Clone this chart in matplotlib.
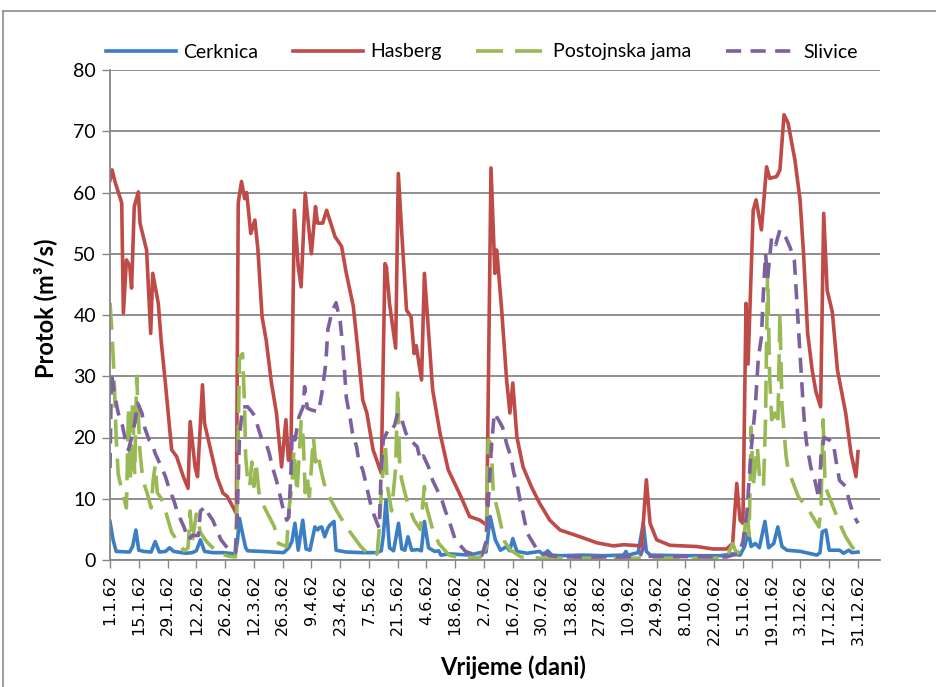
import datetime
import matplotlib
matplotlib.use('Agg')
import matplotlib.pyplot as plt
from matplotlib.lines import Line2D

plt.rcParams['font.family'] = ['Lato', 'DejaVu Sans']

# daily discharge 1962, (day of year from 1.1., m3/s)
cerknica_day = [0, 1.5, 3, 9.5, 11, 12.6, 14, 16.5, 20, 22, 24, 27, 29, 31, 33, 37, 40, 42, 44, 46,
                50, 55, 61, 62, 63, 64.5, 66, 67, 74, 84.5, 87, 88.5, 90, 91.6, 93.8, 95.4, 97.3,
                99.7, 101, 102, 103, 104.5, 106, 107, 109, 110, 115, 123, 129.6, 132, 133, 134.3,
                136, 138, 140.4, 142, 143.5, 145, 146.8, 150, 151.5, 153, 155, 158, 160, 161, 165,
                170, 175, 180, 183, 185, 187.5, 190, 193, 194.5, 196, 198, 203, 209, 211, 213, 215,
                219, 230, 240, 250, 251, 252, 257, 259.5, 261, 263, 280, 297, 303, 306.6, 308.8,
                310.6, 312, 314, 316, 318.7, 320.5, 323, 325, 327, 329.4, 336, 344, 345.5, 346.6,
                348.4, 350, 355, 357, 359.5, 361, 364]
cerknica_q = [6.3, 3.3, 1.4, 1.3, 2.2, 4.9, 1.6, 1.4, 1.3, 3, 1.3, 1.4, 2, 1.4, 1.3, 1.1, 1.2, 1.5, 3.3, 1.4,
              1.2, 1.2, 1, 3, 6.8, 4.3, 2, 1.5, 1.4, 1.2, 2, 3, 6, 1.6, 6.5, 1.8, 1.6,
              5.4, 4.9, 5.3, 5.4, 3.8, 5.2, 5.7, 6.3, 1.6, 1.3, 1.2, 1.2, 1.5, 4, 9.8,
              2, 1.5, 6, 1.8, 1.6, 3.8, 1.6, 1.7, 1.5, 6.3, 2, 1.4, 1.5, 0.8, 1,
              0.9, 0.8, 1.2, 1.3, 7.1, 3.3, 1.6, 2.2, 1.5, 3.5, 1.4, 1.1, 1.4, 0.8, 1.5, 0.8,
              0.7, 0.8, 0.7, 0.8, 1.4, 0.8, 1.2, 6, 1.4, 0.8, 0.7, 0.7, 1, 0.8, 2.2,
              4.6, 2.2, 2.7, 2, 6.3, 2, 2.7, 5.4, 2.2, 1.6, 1.4, 0.8, 1.2, 4.6,
              4.9, 1.6, 1.6, 1.1, 1.6, 1.2, 1.3]

hasberg_day = [0, 1, 2.4, 5.7, 6.5, 8, 9.6, 10.5, 11.8, 13.8, 14.6, 17.8, 19.8, 20.8, 23.5, 25, 26.8,
               30, 32.4, 35.7, 38, 39, 41.4, 42.6, 45, 46, 52, 55, 57, 61.5, 62.4, 64, 65.5, 66.5,
               68.5, 70.5, 72, 74, 76, 78.6, 81, 83.5, 85.6, 86.8, 88, 89.7, 91.6, 93, 95, 98, 100,
               101, 103.5, 105.4, 109.5, 112.7, 115, 118.4, 120.8, 123, 125, 128, 132, 133.8,
               134.5, 136, 139, 140.3, 142, 144.3, 146.5, 148, 149, 151.6, 153, 157, 160.6, 164.6,
               170, 175, 180, 183.3, 185.4, 187.3, 188.2, 190.6, 193, 194.6, 196, 198, 201, 205,
               209, 214, 219, 228.7, 237, 245, 250, 258.7, 261, 262.8, 266, 272.5, 285.5, 293.5,
               300, 303, 305, 306.6, 308, 309.5, 310.5, 311.5, 313, 314.4, 317, 319.5, 321, 324.4,
               326, 328, 330, 333.3, 335.8, 337.5, 339.5, 341.7, 343.5, 345.8, 347.3, 349,
               351.5, 354, 358, 360.6, 363, 364]
hasberg_q = [62, 63.7, 61.8, 58.3, 40.3, 49, 48, 44.4, 57.7, 60.1, 55, 50.6, 37, 46.8, 41.9, 35.4, 29.4,
             18, 16.9, 13.6, 11.7, 22.6, 15.2, 13.6, 28.6, 22.3, 13.6, 10.9, 10.4, 7.6, 58.3, 61.8, 59, 60,
             53.3, 55.5, 50.6, 39.7, 35.9, 28.8, 24, 15.2, 22.9, 16.3, 16.3, 57.1, 47.9, 44.6, 59.9, 50, 57.7,
             55, 55, 57.1, 52.8, 51.2, 46.8, 41.4, 33.7, 26.1, 24, 18, 14.2, 48.4,
             47.9, 41.9, 34.6, 63.1, 53.3, 40.8, 39.7, 33.7, 35, 29.4, 46.8, 27.8, 20.7, 14.7,
             10.9, 7.1, 6.5, 5.7, 64, 46.8, 50.6, 40.8, 29.4, 24, 28.9, 20.1, 15.2, 12,
             9.3, 6.5, 4.9, 3.8, 2.8, 2.3, 2.5, 2.3, 13.1, 6, 3.3, 2.4, 2.2, 1.8,
             1.8, 2.7, 12.5, 6.5, 6, 41.9, 32, 42, 57.1, 58.8, 53.9, 64.2, 62.3, 62.6,
             63.7, 72.7, 71.3, 65.3, 58.8, 50, 37, 31, 27.5, 25, 56.6, 44,
             40.5, 31, 24, 17.4, 13.6, 17.7]

postojna_day = [0, 1, 2, 3, 4, 6, 8, 9, 10, 11, 12, 13, 14.5, 16, 18, 20, 21, 22, 23, 25, 27, 30, 33,
                36, 38, 39, 40, 42, 44, 47, 50, 54, 58, 61, 62, 63, 64.5, 65.5, 66, 67, 68, 69, 70,
                71, 72.5, 75, 80, 82, 86, 87, 88.5, 89.5, 91, 93, 94, 95, 96, 97, 99, 100, 101, 103,
                105, 110, 115, 122, 127, 130, 131, 132, 134, 135, 137, 139, 140, 141, 142, 145, 148,
                151, 153, 154, 157, 160, 165, 170, 180, 183, 184, 185.5, 186.5, 189, 192, 195, 200,
                210, 250, 300, 303, 305, 308, 310, 311, 312, 313, 315, 316, 318, 319, 320, 321, 322,
                323.5, 325, 326, 327, 328, 329, 330, 335, 339, 345, 346, 347, 348, 350, 355, 358,
                361, 364]
postojna_q = [42, 37, 30, 20, 14, 11, 8.5, 25, 13, 26, 14, 30, 18, 13, 11, 8.5, 13, 15.5, 11, 10, 8, 4.5, 3,
              1.5, 2, 8, 3, 7.5, 4.5, 3, 2, 1, 0.6, 0.5, 12, 33, 33.7, 25, 17, 13, 12, 16, 12,
              16, 11, 8.7, 5.4, 2.7, 2.2, 8, 12, 18, 11, 22.6, 20, 11, 13.6, 10.3, 20, 16, 17.4, 14.2,
              11.4, 8.2, 5.4, 2.2, 0.5, 1, 5, 11, 19, 12, 8, 15, 28, 15, 13, 9, 6.5,
              5, 12, 8.7, 5, 2.7, 0.8, 0.4, 0.4, 2, 19.6, 19, 11, 7.6, 3, 1.6, 0.5,
              0.3, 0.3, 0.3, 2.7, 1, 2, 8.7, 4, 21.7, 12, 18.5, 14, 12, 22.9, 47.3, 30, 22.9,
              24, 22, 40.3, 25, 21, 17, 14.7, 10.3, 8.7, 5.4, 8.7, 22.9, 12, 10.3, 6, 3.8,
              2.2, 1]

slivice_day = [0, 0.7, 2.2, 4, 6, 7.5, 9, 10.5, 12, 13.5, 15.5, 17, 19, 20.5, 22, 25, 27, 29, 31, 33,
               34.5, 36, 38, 40, 43, 44, 46.5, 48, 50, 52, 54, 58, 61, 62, 63, 64.5, 67, 69, 70.5,
               72, 74, 76, 77.5, 79, 81, 82.5, 84, 86, 87, 88, 88.7, 90, 92, 94, 94.7, 96, 98, 101.5,
               103, 105, 106, 108, 110, 112, 113.5, 115, 117, 118, 120, 121, 123, 124.5, 126, 127.5,
               130, 131, 132, 133, 135, 136, 138.5, 140, 142, 144, 146, 149.5, 151, 152.5, 155,
               157, 160, 161.5, 163, 166, 168, 173, 178, 181, 183, 184, 185.5, 187, 189, 191, 193,
               195, 196.5, 198, 199.5, 201, 203, 206, 208, 214, 220, 250, 258, 260, 262, 300, 303,
               306, 308, 310, 312, 314, 315.5, 317, 318, 319, 320, 322, 324, 326, 328, 331, 333,
               334, 335.5, 337, 338, 339, 341, 343, 345, 346, 347.5, 350, 352, 353.5, 355, 358,
               360, 362, 364]
slivice_q = [15, 30.5, 27, 24, 22, 19.6, 18, 20, 22.3, 25.6, 24, 21.5, 19.6, 19, 17.4, 15.2, 13.6, 11.4, 9.8, 7.6,
             6.5, 5.4, 3.3, 4, 4, 8, 8.7, 7.5, 6.5, 4.9, 3.3, 1.6, 1.2, 8, 20, 25, 25, 24.2, 23.5,
             21.7, 19.6, 19, 17.4, 15.2, 13, 10.9, 8.7, 6.5, 7, 14, 21, 19.6, 23.4, 25, 28.3, 24.8, 24.5, 24.2,
             27, 32, 37.6, 40.5, 42, 39, 34, 26.5, 22.9, 20.7, 18.5, 16.3, 14.7, 12.6, 10.3, 8.2,
             6, 5.2, 15, 19.6, 21, 20.7, 22, 24, 22.9, 20.7, 19.6, 18.5, 16.3, 17, 15.2,
             13, 10.9, 9.8, 8.2, 5.4, 3.3, 1.4, 0.8, 0.8, 3, 9, 18, 24, 22.9, 21.7, 19,
             16.9, 14.2, 12.5, 9.8, 7.6, 4.4, 2.7, 1.6, 0.7, 0.5, 0.5, 0.6, 2.5, 0.6, 0.5, 0.8,
             1, 3, 8, 18, 25, 33, 36.4, 44, 50, 46, 52.7, 51.5, 53.9, 53.3, 51, 49,
             43.5, 35, 27, 22, 19, 15.2, 13, 10, 17, 20, 19.6, 19, 15.8, 13, 12,
             9.3, 7.2, 6]

series = [
    ('Cerknica', cerknica_day, cerknica_q, '#3C7EC3', None),
    ('Hasberg', hasberg_day, hasberg_q, '#BE4B48', None),
    ('Postojnska jama', postojna_day, postojna_q, '#98B954', (7.5, 3.3)),
    ('Slivice', slivice_day, slivice_q, '#7D60A0', (4.2, 2.6)),
]

grey = '#868686'
W, H = 936, 687

fig = plt.figure(figsize=(W / 100, H / 100), dpi=100)
ax = fig.add_axes([110 / W, 1 - 560 / H, 770 / W, 490 / H])

for name, d, q, col, dash in series:
    line, = ax.plot(d, q, color=col, lw=2.6, label=name, solid_joinstyle='round')
    if dash:
        line.set_dashes(dash)
        line.set_dash_capstyle('butt')

ax.set_xlim(0, 374.7)
ax.set_ylim(0, 80)
ax.set_yticks(range(0, 81, 10))
ax.yaxis.grid(True, color=grey, lw=1.3)
ax.set_axisbelow(True)

start = datetime.date(1962, 1, 1)
tick_days = list(range(0, 365, 14))
tick_labels = []
for td in tick_days:
    dt = start + datetime.timedelta(days=td)
    tick_labels.append('%d.%d.62' % (dt.day, dt.month))
ax.set_xticks(tick_days)
ax.set_xticklabels(tick_labels, rotation=90, fontsize=11.5, family='DejaVu Sans')
ax.tick_params(axis='y', labelsize=14, length=6, color=grey, width=1, pad=4)
ax.tick_params(axis='x', length=6, color=grey, width=1, pad=4)

for s in ['top', 'right']:
    ax.spines[s].set_visible(False)
for s in ['left', 'bottom']:
    ax.spines[s].set_color(grey)
    ax.spines[s].set_linewidth(1.3)

fig.text(45 / W, 1 - 308 / H, 'Protok (m³/s)', rotation=90, ha='center', va='center',
         fontsize=17, fontweight='bold')
fig.text(513 / W, 1 - 667 / H, 'Vrijeme (dani)', ha='center', va='center',
         fontsize=17, fontweight='bold')

fig.legend(loc='center', bbox_to_anchor=(482 / W, 1 - 52 / H), ncol=4, frameon=False,
           fontsize=14, handlelength=3.6, handletextpad=0.35, columnspacing=1.8)

# chart area border
fig.add_artist(Line2D([3 / W, 1], [1 - 11 / H, 1 - 11 / H], color='#8C8C8C', lw=1.2))
fig.add_artist(Line2D([3 / W, 3 / W], [0, 1 - 11 / H], color='#8C8C8C', lw=1.2))

fig.savefig('out.png', dpi=100)
